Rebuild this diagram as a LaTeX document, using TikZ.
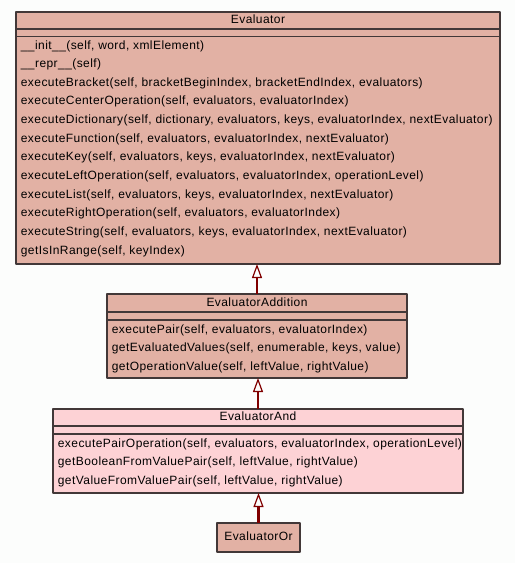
\documentclass[tikz,border=0pt]{standalone}
\usepackage{fontspec}
\setmainfont{Liberation Sans}
\newfontfamily\umlfont[LetterSpace=3.6]{Liberation Sans}
\usetikzlibrary{arrows.meta}
\definecolor{classfill}{RGB}{226,177,164}
\definecolor{andfill}{RGB}{253,210,213}
\definecolor{classline}{RGB}{66,56,56}
\definecolor{inherit}{RGB}{128,0,0}
\definecolor{paper}{RGB}{252,253,252}
\tikzset{
  classbox/.style={draw=classline, line width=1.2pt, anchor=north west, inner sep=0pt, outer sep=0pt},
  method/.style={anchor=west, inner sep=0pt, text height=8.5pt, text depth=2.5pt, font=\umlfont\fontsize{12}{14}\selectfont},
  classname/.style={inner sep=0pt, text height=8.5pt, text depth=2.5pt, font=\umlfont\fontsize{12}{14}\selectfont},
  generalization/.style={draw=inherit, line width=2.6pt, -{Triangle[open, length=14pt, width=10pt, line width=1.2pt]}}
}
\begin{document}
\begin{tikzpicture}[x=1pt, y=-1pt, line join=round]
\fill[paper] (0,0) rectangle (515,563);
\useasboundingbox (0,0) rectangle (515,563);

\node[classbox, fill=classfill, minimum width=484pt, minimum height=252pt] (evaluator) at (16,12) {};
\node[classbox, fill=classfill, minimum width=300pt, minimum height=84pt] (addition) at (107,294) {};
\node[classbox, fill=andfill, minimum width=410pt, minimum height=84pt] (and) at (53,409) {};
\node[classbox, fill=classfill, minimum width=83pt, minimum height=29pt] (or) at (217,523) {};

% compartments
\draw[classline, line width=1.2pt] (16,29) -- (500,29);
\draw[classline, line width=1.2pt] (16,36.5) -- (500,36.5);
\draw[classline, line width=1.2pt] (107,312) -- (407,312);
\draw[classline, line width=1.2pt] (107,320) -- (407,320);
\draw[classline, line width=1.2pt] (53,426) -- (463,426);
\draw[classline, line width=1.2pt] (53,434) -- (463,434);

\node[classname] (evaluatorname) at (258,20.5) {Evaluator};
\node[classname] (additionname) at (257,303) {EvaluatorAddition};
\node[classname] (andname) at (258,417.5) {EvaluatorAnd};
\node[classname] (orname) at (258.5,537.5) {EvaluatorOr};

\foreach \m [count=\i from 0] in {{\_\_init\_\_(self, word, xmlElement)},
    {\_\_repr\_\_(self)},
    {executeBracket(self, bracketBeginIndex, bracketEndIndex, evaluators)},
    {executeCenterOperation(self, evaluators, evaluatorIndex)},
    {executeDictionary(self, dictionary, evaluators, keys, evaluatorIndex, nextEvaluator)},
    {executeFunction(self, evaluators, evaluatorIndex, nextEvaluator)},
    {executeKey(self, evaluators, keys, evaluatorIndex, nextEvaluator)},
    {executeLeftOperation(self, evaluators, evaluatorIndex, operationLevel)},
    {executeList(self, evaluators, keys, evaluatorIndex, nextEvaluator)},
    {executeRightOperation(self, evaluators, evaluatorIndex)},
    {executeString(self, evaluators, keys, evaluatorIndex, nextEvaluator)},
    {getIsInRange(self, keyIndex)}}
    \node[method] (evaluator\i) at (20.7, 46+18.64*\i) {\m};

\foreach \m [count=\i from 0] in {{executePair(self, evaluators, evaluatorIndex)},
    {getEvaluatedValues(self, enumerable, keys, value)},
    {getOperationValue(self, leftValue, rightValue)}}
    \node[method] (addition\i) at (111.7, 330+18.5*\i) {\m};

\foreach \m [count=\i from 0] in {{executePairOperation(self, evaluators, evaluatorIndex, operationLevel)},
    {getBooleanFromValuePair(self, leftValue, rightValue)},
    {getValueFromValuePair(self, leftValue, rightValue)}}
    \node[method] (and\i) at (57.7, 444+18.5*\i) {\m};

\draw[generalization] (addition.north) -- (addition.north |- evaluator.south);
\draw[generalization] (and.north) -- (and.north |- addition.south);
\draw[generalization] (or.north) -- (or.north |- and.south);

\end{tikzpicture}
\end{document}
